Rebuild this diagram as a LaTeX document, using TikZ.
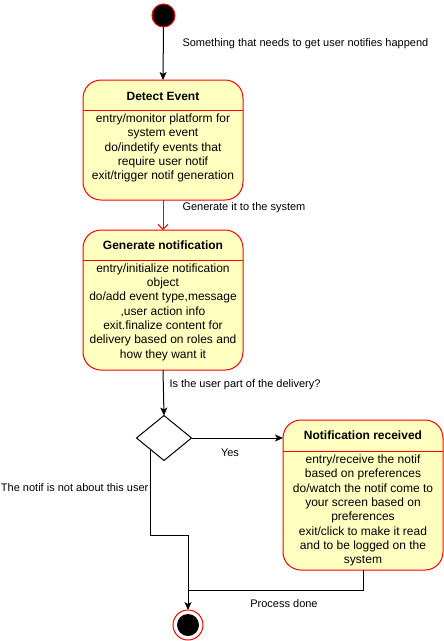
\documentclass[tikz,border=0pt]{standalone}
\usepackage{fontspec}
\setmainfont{Liberation Sans}
\usetikzlibrary{shapes.geometric,arrows.meta,calc}
\definecolor{stfill}{HTML}{FFFFC0}
\definecolor{stred}{HTML}{FF0000}
\begin{document}
\begin{tikzpicture}[x=1pt,y=-1pt,line width=1pt,
  statebox/.style={draw=stred,fill=stfill,rounded corners=18pt,minimum width=160pt,inner sep=0pt,outer sep=0pt},
  divider/.style={draw=stred},
  titletxt/.style={font=\fontsize{12}{14.4}\selectfont\bfseries,inner sep=0pt},
  bodytxt/.style={font=\fontsize{12}{14.3}\selectfont,align=center,inner sep=0pt},
  lbl/.style={font=\fontsize{11}{13}\selectfont,inner sep=0pt},
  flow/.style={draw=black,-{Stealth[length=8pt,width=7pt,inset=2pt]}},
  redflow/.style={draw=stred,-{Straight Barb[length=5pt,width=10pt]}},
  plain/.style={draw=black}]
\useasboundingbox (0,0) rectangle (444,641);

% start
\node[circle,draw=stred,fill=black,minimum size=23pt,inner sep=0pt,outer sep=0pt] (start) at (163.5,15.5) {};

% Detect Event
\node[statebox,minimum height=120pt] (de) at (163,140) {};
\draw[divider] (de.west |- 0,110) -- (de.east |- 0,110);
\node[titletxt] (det) at (163,96) {Detect Event};
\node[bodytxt] (deb) at (163,148) {entry/monitor platform for\\system event\\do/indetify events that\\require user notif\\exit/trigger notif generation};

% Generate notification
\node[statebox,minimum height=140pt] (gn) at (163,300) {};
\draw[divider] (gn.west |- 0,260) -- (gn.east |- 0,260);
\node[titletxt] (gnt) at (163,245) {Generate notification};
\node[bodytxt] (gnb) at (163,312) {entry/initialize notification\\object\\do/add event type,message\\,user action info\\exit.finalize content for\\delivery based on roles and\\how they want it};

% decision
\node[diamond,draw=black,fill=white,minimum width=55pt,minimum height=45pt,inner sep=0pt,outer sep=0pt] (dec) at (164,438) {};

% Notification received
\node[statebox,minimum height=150pt] (nr) at (363,495) {};
\draw[divider] (nr.west |- 0,451) -- (nr.east |- 0,451);
\node[titletxt] (nrt) at (363,435) {Notification received};
\node[bodytxt] (nrb) at (363,510.5) {entry/receive the notif\\based on preferences\\do/watch the notif come to\\your screen based on\\preferences\\exit/click to make it read\\and to be logged on the\\system};

% end
\node[circle,draw=stred,fill=white,minimum size=30pt,inner sep=0pt,outer sep=0pt] (endc) at (188,625) {};
\node[circle,fill=black,minimum size=22pt,inner sep=0pt] (endin) at (endc) {};

\coordinate (nostart) at ($(dec.west)!0.5!(dec.south)$);
\coordinate (j1) at (188,535);
\coordinate (j2) at (188,590);

% connectors
\draw[flow] (start.south) -- (de.north);
\draw[redflow] (de.south) -- (gn.north);
\draw[flow] (gn.south) -- (dec.north);
\draw[flow] (dec.east) -- (dec.east -| nr.west);
\draw[flow] (nostart) |- (j1) -- (endc.north);
\draw[plain] (nr.south) |- (j2);

% labels
\node[lbl,anchor=west] (l1) at (182,44) {Something that needs to get user notifies happend};
\node[lbl,anchor=west] (l2) at (182,208) {Generate it to the system};
\node[lbl,anchor=west] (l3) at (169,385) {Is the user part of the delivery?};
\node[lbl] (l4) at (230,453) {Yes};
\node[lbl,anchor=west] (l5) at (0.5,488) {The notif is not about this user};
\node[lbl] (l6) at (284,604) {Process done};
\end{tikzpicture}
\end{document}
